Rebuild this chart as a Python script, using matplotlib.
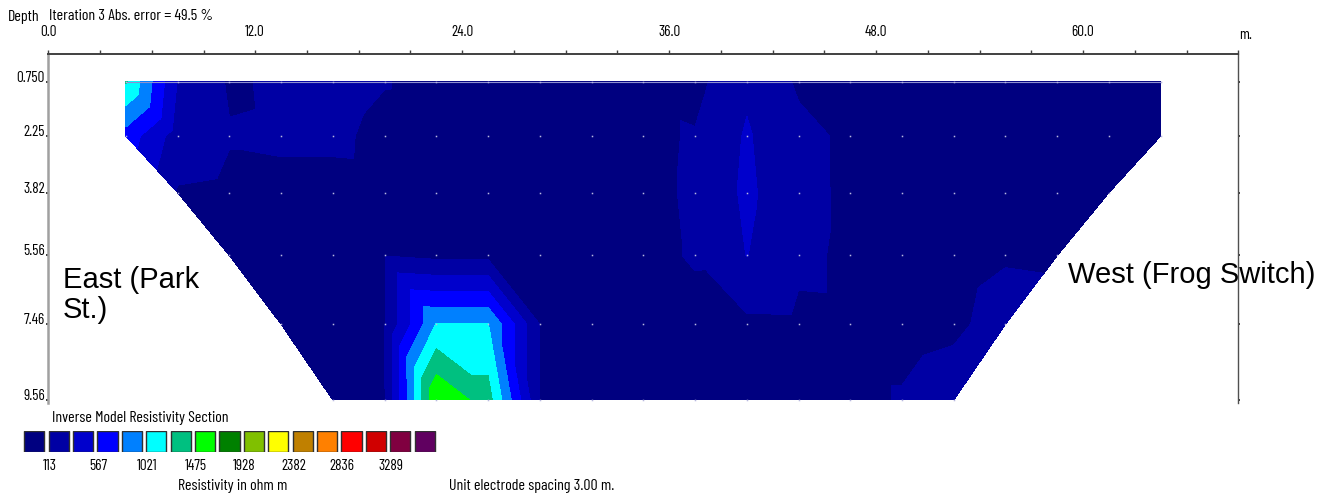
import numpy as np
import matplotlib
matplotlib.use("Agg")
import matplotlib.pyplot as plt
from matplotlib import font_manager as fm
from matplotlib.tri import Triangulation
from matplotlib.patches import Rectangle

# ---------------- data ----------------
x_pos = [4.5, 7.5, 10.5, 13.5, 16.5, 19.5, 22.5, 25.5, 28.5, 31.5, 34.5,
         37.5, 40.5, 43.5, 46.5, 49.5, 52.5, 55.5, 58.5, 61.5, 64.5]
depths = [0.75, 2.25, 3.82, 5.56, 7.46, 9.56]
depth_labels = ["0.750", "2.25", "3.82", "5.56", "7.46", "9.56"]
N = None
# model resistivity (ohm m) at block nodes; None = outside the section
res_r0 = [1270, 330, 90, 140, 155, 118, 80, 80, 80, 80, 80, 50, 300, 85, 80, 80, 80, 80, 80, 80, 80]
res_r1 = [700, 230, 125, 135, 135, 84, 80, 80, 80, 80, 80, 126, 363, 162, 80, 80, 80, 80, 80, 80, 80]
res_r2 = [N, 95, 75, 75, 75, 80, 80, 80, 80, 80, 80, 130, 385, 165, 80, 80, 80, 80, 80, 80, N]
res_r3 = [N, N, 80, 80, 80, 105, 58, 58, 80, 80, 80, 124, 345, 152, 80, 80, 80, 105, 100, N, N]
res_r4 = [N, N, N, 80, 80, 105, 1030, 1030, 110, 80, 80, 75, 70, 75, 80, 80, 95, 150, N, N, N]
res_r5 = [N, N, N, N, 80, 100, 1700, 1349, 110, 80, 80, 80, 80, 80, 80, 121, 160, N, N, N, N]
res_rows = [res_r0, res_r1, res_r2, res_r3, res_r4, res_r5]

levels = [113, 340, 567, 794, 1021, 1248, 1475, 1701, 1928, 2155, 2382, 2609,
          2836, 3062, 3289, 3516]
colors = ["#000080", "#0000A4", "#0000CC", "#0000FF", "#0080FF", "#00FFFF",
          "#00C080", "#00FF00", "#008000", "#80C000", "#FFFF00", "#C08000",
          "#FF8000", "#FF0000", "#D00000", "#800040", "#600060"]
x_ticks_major = [0.0, 12.0, 24.0, 36.0, 48.0, 60.0]

# ---------------- fonts ----------------
names = {f.name for f in fm.fontManager.ttflist}
NARROW = dict(family="DejaVu Sans")
for cand in ["Barlow Condensed", "Archivo Narrow", "Liberation Sans Narrow", "Asap Condensed"]:
    if cand in names:
        NARROW = dict(family=cand)
        break
else:
    if any(f.name == "DejaVu Sans" and "condensed" in str(f.stretch) for f in fm.fontManager.ttflist):
        NARROW = dict(family="DejaVu Sans", stretch="condensed")
SANS = "Liberation Sans" if "Liberation Sans" in names else "DejaVu Sans"

W, H = 1334, 495
fig = plt.figure(figsize=(W / 100, H / 100), dpi=100)


def fx(px):
    return px / W


def fy(py):
    return 1 - py / H


# ---------------- section ----------------
ax = fig.add_axes([fx(48.3), fy(403), fx(1238.3) - fx(48.3), fy(54) - fy(403)])
ax.patch.set_facecolor("none")

pts_x, pts_y, vals, idx = [], [], [], {}
for r, row in enumerate(res_rows):
    for i, v in enumerate(row):
        if v is not None:
            idx[(r, i)] = len(vals)
            pts_x.append(x_pos[i])
            pts_y.append(depths[r])
            vals.append(v)

tris = []
for r in range(len(depths) - 1):
    for i in range(len(x_pos) - 1):
        a, b, c, d = (r, i), (r, i + 1), (r + 1, i), (r + 1, i + 1)
        ok = [k in idx for k in (a, b, c, d)]
        if all(ok):
            tris += [[idx[a], idx[b], idx[d]], [idx[a], idx[c], idx[d]]]
        elif sum(ok) == 3:
            tris.append([idx[k] for k, o in zip((a, b, c, d), ok) if o])

tri = Triangulation(pts_x, pts_y, triangles=tris)
all_levels = [0] + levels + [100000]
ax.tricontourf(tri, vals, levels=all_levels, colors=colors, zorder=1)
ax.plot([x_pos[0], x_pos[-1]], [depths[0], depths[0]], color="#9090d0", lw=0.8, zorder=2)
ax.plot(pts_x, pts_y, ls="none", marker="s", ms=1.1, mew=0, color="#b8b8e0", zorder=3)

ax.set_xlim(0, 69)
ax.set_ylim(9.643, -0.017)
ax.spines["bottom"].set_visible(False)
ax.spines["top"].set_color("#404040")
ax.spines["top"].set_linewidth(1.4)
ax.spines["left"].set_color("#a0a0a0")
ax.spines["left"].set_linewidth(1.8)
ax.spines["right"].set_color("#505050")
ax.spines["right"].set_linewidth(1.0)
ax.xaxis.tick_top()
xt = np.arange(0, 69.1, 3)
ax.set_xticks(xt)
ax.set_xticklabels([f"{v:.1f}" if v in x_ticks_major else "" for v in xt],
                   fontsize=11, **NARROW)
ax.tick_params(axis="x", direction="out", length=3, width=1, color="#404040", pad=7.5)
ax.set_yticks(depths)
ax.set_yticklabels(depth_labels, fontsize=11, **NARROW)
ax.tick_params(axis="y", left=True, right=True, direction="out", length=1.5,
               width=1.2, color="#202020", pad=1)
for lbl in ax.get_yticklabels():
    lbl.set_verticalalignment("baseline")

fig.text(fx(1239), fy(39), "m.", ha="left", va="baseline", fontsize=11, **NARROW)
fig.text(fx(8), fy(16.5), "Depth", ha="left", va="center", fontsize=11.5, **NARROW)
fig.text(fx(49), fy(16.5), "Iteration 3 Abs. error = 49.5 %", ha="left", va="center",
         fontsize=11.5, **NARROW)

fig.text(fx(63), fy(318), "East (Park\nSt.)", ha="left", va="baseline",
         fontsize=21, family=SANS, linespacing=1.1, zorder=5)
fig.text(fx(1068), fy(283), "West (Frog Switch)", ha="left", va="baseline",
         fontsize=21, family=SANS, zorder=-1)

# ---------------- colour legend ----------------
lax = fig.add_axes([fx(22.1), fy(452.3), fx(17 * 24.4), fy(430.7) - fy(452.3)])
lax.set_xlim(0, 17)
lax.set_ylim(0, 1)
lax.axis("off")
for k, c in enumerate(colors):
    lax.add_patch(Rectangle((k + 0.09, 0), 0.82, 1, facecolor=c, edgecolor="#303030", lw=1.0))
for m, lev in enumerate(levels):
    if m % 2 == 0:
        lax.text(m + 1.12, -0.62, str(lev), ha="center", va="center", fontsize=11, **NARROW)

fig.text(fx(52), fy(418), "Inverse Model Resistivity Section", ha="left", va="center",
         fontsize=11.5, **NARROW)
fig.text(fx(178), fy(479), "Resistivity in ohm m", ha="left", va="top", fontsize=11.5, **NARROW)
fig.text(fx(449), fy(479), "Unit electrode spacing 3.00 m.", ha="left", va="top",
         fontsize=11.5, **NARROW)

fig.savefig("out.png", dpi=100)
